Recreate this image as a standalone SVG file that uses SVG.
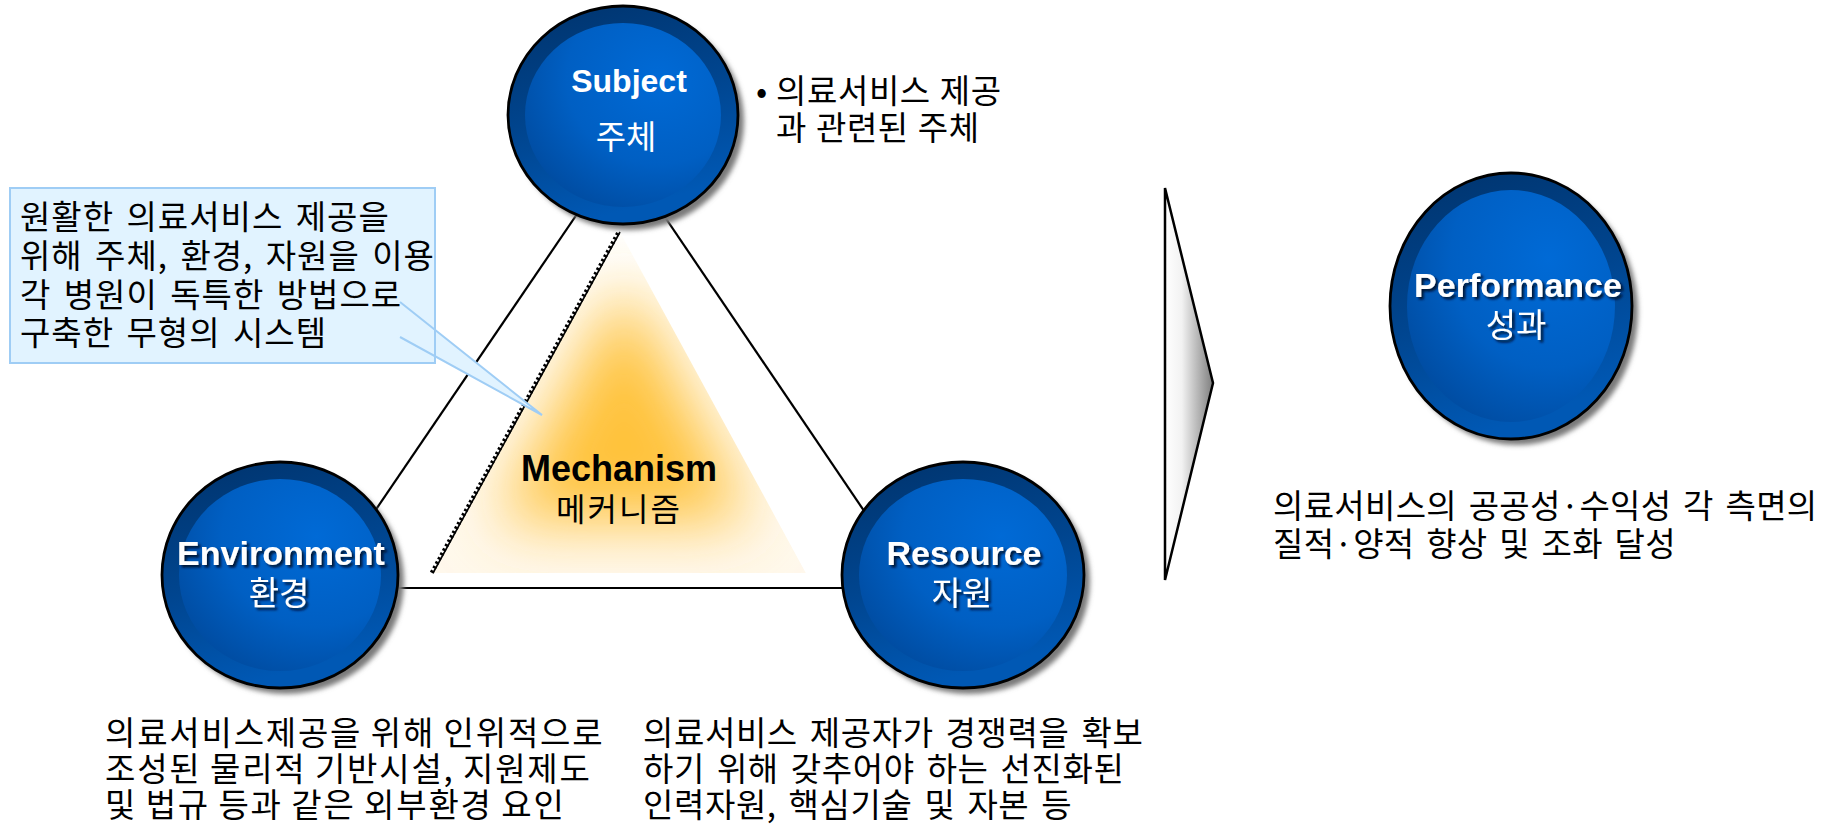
<svg xmlns="http://www.w3.org/2000/svg" width="1838" height="825" viewBox="0 0 1838 825">
<style>
.ko{font-family:"Noto Sans CJK KR","Noto Sans",sans-serif;font-size:33px;fill:#000}
.lab{font-family:"Liberation Sans",Arial,sans-serif;font-weight:bold;fill:#fff;text-anchor:middle}
.klab{font-family:"Noto Sans CJK KR",sans-serif;font-size:33px;fill:#fff;text-anchor:middle}
.edge{stroke:#000;stroke-width:2.2;fill:none}
.ring{fill:url(#ringGrad);stroke:#000;stroke-width:2.8}
.disc{fill:url(#discGrad)}
.shadow{fill:#7a7a7a;filter:url(#blur3)}
</style>
<defs>
<linearGradient id="ringGrad" x1="0" y1="0" x2="0.3" y2="1">
<stop offset="0" stop-color="#00336C"/>
<stop offset="0.55" stop-color="#00458F"/>
<stop offset="1" stop-color="#0058B4"/>
</linearGradient>
<radialGradient id="discGrad" cx="0.68" cy="0.3" r="0.85">
<stop offset="0" stop-color="#006AD6"/>
<stop offset="0.55" stop-color="#005FC3"/>
<stop offset="1" stop-color="#00489A"/>
</radialGradient>
<linearGradient id="arrowGrad" x1="0" y1="0" x2="1" y2="0">
<stop offset="0" stop-color="#ffffff"/>
<stop offset="0.35" stop-color="#f2f2f2"/>
<stop offset="1" stop-color="#7e7e7e"/>
</linearGradient>
<linearGradient id="baseGrad" x1="0" y1="0" x2="0" y2="1">
<stop offset="0" stop-color="#FFFFFF"/>
<stop offset="1" stop-color="#FFF8EC"/>
</linearGradient>
<filter id="blur3" x="-10%" y="-10%" width="120%" height="120%"><feGaussianBlur stdDeviation="2.5"/></filter>
<filter id="glowBlur" x="-50%" y="-50%" width="200%" height="200%"><feGaussianBlur stdDeviation="32"/></filter>
<filter id="tshadow" x="-10%" y="-20%" width="120%" height="150%"><feDropShadow dx="2.5" dy="2.5" stdDeviation="1.2" flood-color="#001029" flood-opacity="0.9"/></filter>
<clipPath id="triClip"><polygon points="620,232 433,573 806,573"/></clipPath>
</defs>
<rect width="1838" height="825" fill="#fff"/>

<g id="connectors">
<line class="edge" x1="590" y1="195" x2="362" y2="530"/>
<line class="edge" x1="650" y1="195" x2="877" y2="530"/>
<line class="edge" x1="390" y1="588" x2="850" y2="588"/>
</g>

<g id="mechanism">
<g clip-path="url(#triClip)">
<polygon points="620,232 433,573 806,573" fill="url(#baseGrad)"/>
<polygon points="624,278 495,522 753,522" fill="#FFC23A" filter="url(#glowBlur)"/>
</g>
<line x1="620" y1="232" x2="433" y2="573" stroke="#000" stroke-width="1.6"/>
<line x1="618" y1="233" x2="431" y2="574" stroke="#000" stroke-width="4" stroke-dasharray="2.5 2.5"/>
<text x="619" y="481" font-family="Liberation Sans,Arial,sans-serif" font-weight="bold" font-size="36" fill="#000" text-anchor="middle">Mechanism</text>
<text x="619" y="521" font-family="Noto Sans CJK KR,sans-serif" font-size="32" fill="#000" text-anchor="middle" letter-spacing="2">메커니즘</text>
</g>

<g id="callout">
<rect x="10" y="188" width="425" height="175" fill="#E1F3FF"/>
<polygon points="400,302 542,415 400,337" fill="#E1F3FF"/>
<polyline points="400,302 542,415 400,337" fill="none" stroke="#9FCDF5" stroke-width="2"/>
<rect x="10" y="188" width="425" height="175" fill="none" stroke="#9FCDF5" stroke-width="2"/>
<text class="ko" style="letter-spacing:1px;word-spacing:4px"><tspan x="20" y="229">원활한 의료서비스 제공을</tspan><tspan x="20" y="268">위해 주체, 환경, 자원을 이용</tspan><tspan x="20" y="307">각 병원이 독특한 방법으로</tspan><tspan x="20" y="345">구축한 무형의 시스템</tspan></text>
</g>

<g id="subject">
<ellipse class="shadow" cx="629" cy="121" rx="115" ry="109"/>
<ellipse class="ring" cx="623" cy="115" rx="115" ry="109"/>
<ellipse class="disc" cx="623" cy="115" rx="98" ry="92"/>
<text class="lab" x="629" y="92" font-size="32">Subject</text>
<text class="klab" x="626" y="149" font-size="32">주체</text>
</g>

<g id="subject-note">
<text class="ko" style="letter-spacing:0.6px;word-spacing:1px"><tspan x="756" y="103">•</tspan><tspan x="776" y="103">의료서비스 제공</tspan><tspan x="776" y="140">과 관련된 주체</tspan></text>
</g>

<g id="environment">
<ellipse class="shadow" cx="286" cy="581" rx="118" ry="113"/>
<ellipse class="ring" cx="280" cy="575" rx="118" ry="113"/>
<ellipse class="disc" cx="280" cy="575" rx="101" ry="96"/>
<text class="lab" x="281" y="565" font-size="34" filter="url(#tshadow)">Environment</text>
<text class="klab" x="279" y="605" filter="url(#tshadow)">환경</text>
</g>

<g id="resource">
<ellipse class="shadow" cx="969" cy="581" rx="121" ry="113"/>
<ellipse class="ring" cx="963" cy="575" rx="121" ry="113"/>
<ellipse class="disc" cx="963" cy="575" rx="104" ry="96"/>
<text class="lab" x="964" y="565" font-size="34" filter="url(#tshadow)">Resource</text>
<text class="klab" x="962" y="605" filter="url(#tshadow)">자원</text>
</g>

<g id="env-note">
<text class="ko" style="letter-spacing:1.8px;word-spacing:-0.7px"><tspan x="105" y="745">의료서비스제공을 위해 인위적으로</tspan><tspan x="105" y="781">조성된 물리적 기반시설, 지원제도</tspan><tspan x="105" y="817">및 법규 등과 같은 외부환경 요인</tspan></text>
</g>

<g id="resource-note">
<text class="ko" style="letter-spacing:0.6px;word-spacing:4px"><tspan x="643" y="745">의료서비스 제공자가 경쟁력을 확보</tspan><tspan x="643" y="781">하기 위해 갖추어야 하는 선진화된</tspan><tspan x="643" y="817">인력자원, 핵심기술 및 자본 등</tspan></text>
</g>

<g id="arrow">
<polygon points="1165,188 1213,383 1165,580" fill="url(#arrowGrad)" stroke="#000" stroke-width="2.5" stroke-linejoin="miter"/>
</g>

<g id="performance">
<ellipse class="shadow" cx="1517" cy="312" rx="121" ry="133"/>
<ellipse class="ring" cx="1511" cy="306" rx="121" ry="133"/>
<ellipse class="disc" cx="1511" cy="306" rx="104" ry="116"/>
<text class="lab" x="1518" y="297" font-size="34" filter="url(#tshadow)">Performance</text>
<text class="klab" x="1516" y="337" filter="url(#tshadow)">성과</text>
</g>

<g id="performance-note">
<text class="ko" style="letter-spacing:0.3px;word-spacing:4px"><tspan x="1273" y="518">의료서비스의 공공성·수익성 각 측면의</tspan><tspan x="1273" y="556">질적·양적 향상 및 조화 달성</tspan></text>
</g>
</svg>
